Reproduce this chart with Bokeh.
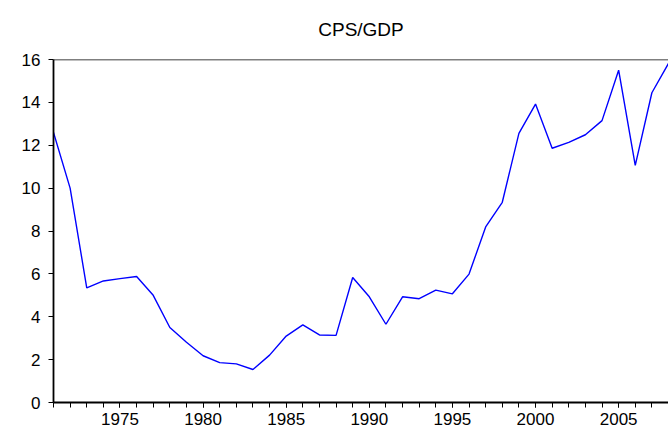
from bokeh.plotting import figure
from bokeh.models import FixedTicker, Range1d, Span
from bokeh.embed import file_html
from bokeh.resources import INLINE

years = list(range(1971, 2009))
cps_gdp = [12.6, 10.0, 5.35, 5.67, 5.78, 5.88, 5.0, 3.5, 2.81, 2.18,
           1.86, 1.8, 1.54, 2.21, 3.1, 3.62, 3.15, 3.13, 5.83, 4.93,
           3.65, 4.93, 4.84, 5.24, 5.07, 5.99, 8.19, 9.34, 12.55, 13.92,
           11.86, 12.13, 12.49, 13.15, 15.5, 11.06, 14.45, 15.82]
x_major = [1975, 1980, 1985, 1990, 1995, 2000, 2005]
y_major = [0, 2, 4, 6, 8, 10, 12, 14, 16]
title_text = "CPS/GDP"

FONT = "Liberation Sans"

p = figure(width=668, height=430, output_backend="svg", toolbar_location=None,
           x_range=Range1d(1971, 2008), y_range=Range1d(0, 16),
           min_border_left=53, min_border_right=0, min_border_top=55, min_border_bottom=28)

p.line(years, cps_gdp, line_color="#0000ff", line_width=1.4)

p.title.text = title_text
p.title.align = "center"
p.title.vertical_align = "top"
p.title.text_font = FONT
p.title.text_font_style = "normal"
p.title.text_font_size = "19px"
p.title.text_color = "#000000"
p.title.text_line_height = 0.7
p.title.standoff = 36

p.xgrid.visible = False
p.ygrid.visible = False
p.outline_line_color = None
p.background_fill_color = "white"
p.border_fill_color = "white"

p.add_layout(Span(location=16, dimension="width", line_color="black", line_width=1.5))

xa = p.xaxis[0]
xa.ticker = FixedTicker(ticks=x_major, minor_ticks=years)
ya = p.yaxis[0]
ya.ticker = FixedTicker(ticks=y_major, minor_ticks=[])
for ax in (xa, ya):
    ax.axis_line_color = "black"
    ax.axis_line_width = 1.8
    ax.major_tick_line_color = "black"
    ax.minor_tick_line_color = "black"
    ax.major_tick_in = 0
    ax.major_tick_out = 5
    ax.minor_tick_in = 0
    ax.minor_tick_out = 5
    ax.major_label_text_font = FONT
    ax.major_label_text_font_size = "17px"
    ax.major_label_text_color = "#000000"
ya.major_label_standoff = 8
xa.major_label_standoff = 5

open("out.html", "w").write(file_html(p, INLINE))
